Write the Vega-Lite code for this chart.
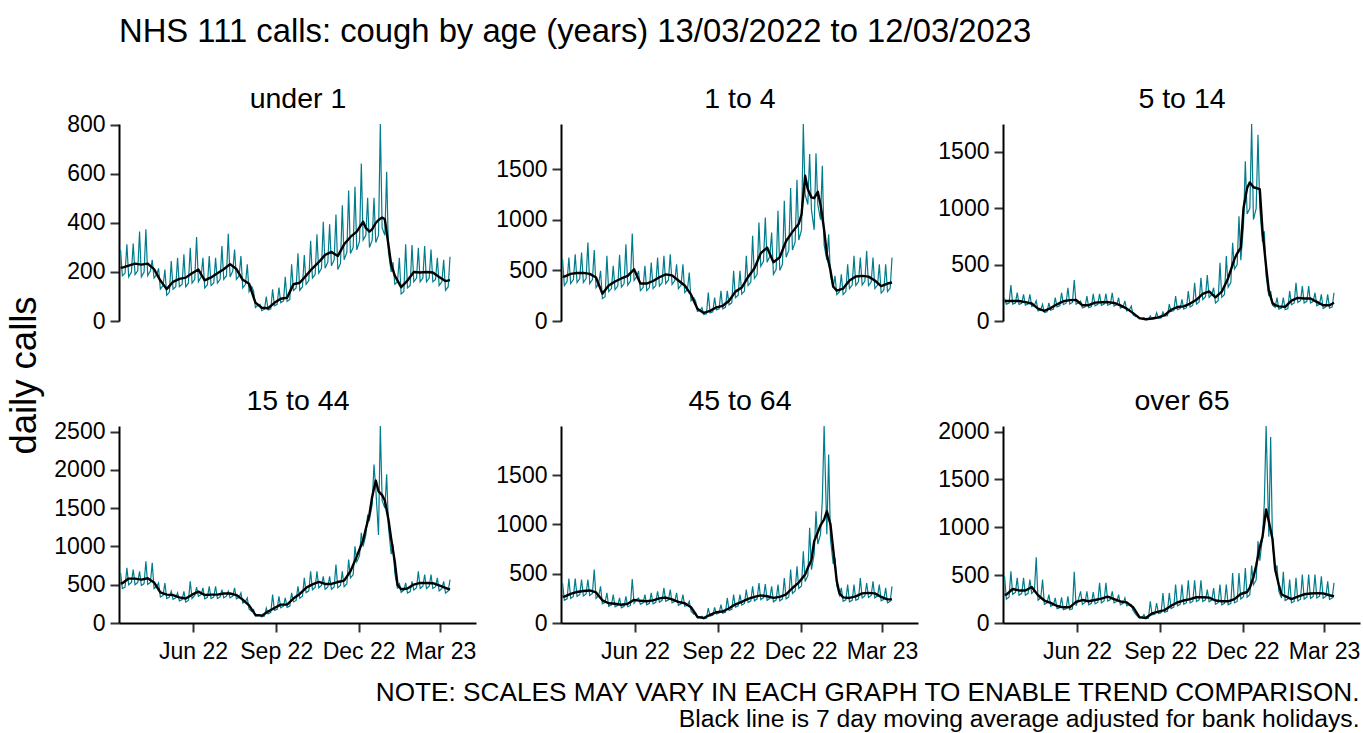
{
"$schema":"https://vega.github.io/schema/vega-lite/v6.json",
"background":"white",
"padding":{"left":5,"top":16,"right":2,"bottom":2},
"title":{"text":"NHS 111 calls: cough by age (years) 13/03/2022 to 12/03/2023","anchor":"start","frame":"group","fontSize":32.8,"fontWeight":"normal","font":"Liberation Sans","color":"#000000","baseline":"alphabetic","offset":9},
"config":{
"font":"Liberation Sans",
"view":{"stroke":null},
"axis":{"grid":false,"domainColor":"#000000","domainWidth":2,"tickColor":"#333333","tickWidth":2,"tickSize":9,"labelFontSize":23,"labelColor":"#000000","labelFont":"Liberation Sans","titleFont":"Liberation Sans","titleFontWeight":"normal","titleColor":"#000000"},
"axisY":{"labelPadding":5},
"axisX":{"labelPadding":8}
},
"datasets":{
"p1":[{"d":"2022-03-13","v":290,"m":218},{"d":"2022-03-15","v":185,"m":218},{"d":"2022-03-18","v":195},{"d":"2022-03-20","v":313},{"d":"2022-03-22","v":180,"m":226},{"d":"2022-03-25","v":200},{"d":"2022-03-27","v":316},{"d":"2022-03-29","v":190,"m":234},{"d":"2022-04-01","v":205},{"d":"2022-04-03","v":365},{"d":"2022-04-05","v":180,"m":230},{"d":"2022-04-08","v":200},{"d":"2022-04-10","v":374},{"d":"2022-04-12","v":185,"m":234},{"d":"2022-04-15","v":205},{"d":"2022-04-17","v":250},{"d":"2022-04-19","v":175,"m":212},{"d":"2022-04-22","v":190},{"d":"2022-04-24","v":215},{"d":"2022-04-26","v":130,"m":165},{"d":"2022-04-29","v":145},{"d":"2022-05-01","v":210},{"d":"2022-05-03","v":105,"m":130},{"d":"2022-05-06","v":118},{"d":"2022-05-08","v":245},{"d":"2022-05-10","v":130,"m":160},{"d":"2022-05-13","v":140},{"d":"2022-05-15","v":258},{"d":"2022-05-17","v":140,"m":172},{"d":"2022-05-20","v":150},{"d":"2022-05-22","v":272},{"d":"2022-05-24","v":140,"m":177},{"d":"2022-05-27","v":155},{"d":"2022-05-29","v":299},{"d":"2022-05-31","v":155,"m":195},{"d":"2022-06-03","v":170},{"d":"2022-06-05","v":343},{"d":"2022-06-07","v":160,"m":210},{"d":"2022-06-10","v":180},{"d":"2022-06-12","v":258},{"d":"2022-06-14","v":135,"m":166},{"d":"2022-06-17","v":148},{"d":"2022-06-19","v":265},{"d":"2022-06-21","v":145,"m":178},{"d":"2022-06-24","v":155},{"d":"2022-06-26","v":258},{"d":"2022-06-28","v":155,"m":195},{"d":"2022-07-01","v":170},{"d":"2022-07-03","v":306},{"d":"2022-07-05","v":170,"m":211},{"d":"2022-07-08","v":185},{"d":"2022-07-10","v":356},{"d":"2022-07-12","v":180,"m":232},{"d":"2022-07-15","v":205},{"d":"2022-07-17","v":292},{"d":"2022-07-19","v":170,"m":212},{"d":"2022-07-22","v":185},{"d":"2022-07-24","v":265},{"d":"2022-07-26","v":135,"m":168},{"d":"2022-07-29","v":150},{"d":"2022-07-31","v":231},{"d":"2022-08-02","v":120,"m":152},{"d":"2022-08-05","v":140},{"d":"2022-08-07","v":122},{"d":"2022-08-09","v":55,"m":75},{"d":"2022-08-12","v":65},{"d":"2022-08-14","v":68},{"d":"2022-08-16","v":42,"m":54},{"d":"2022-08-19","v":48},{"d":"2022-08-21","v":100},{"d":"2022-08-23","v":45,"m":52},{"d":"2022-08-26","v":50},{"d":"2022-08-28","v":129},{"d":"2022-08-30","v":62,"m":74},{"d":"2022-09-02","v":68},{"d":"2022-09-04","v":136},{"d":"2022-09-06","v":75,"m":91},{"d":"2022-09-09","v":82},{"d":"2022-09-11","v":180},{"d":"2022-09-13","v":80,"m":95},{"d":"2022-09-16","v":88},{"d":"2022-09-18","v":231},{"d":"2022-09-20","v":125,"m":150},{"d":"2022-09-23","v":135},{"d":"2022-09-25","v":276},{"d":"2022-09-27","v":125,"m":156},{"d":"2022-09-30","v":140},{"d":"2022-10-02","v":269},{"d":"2022-10-04","v":150,"m":185},{"d":"2022-10-07","v":165},{"d":"2022-10-09","v":327},{"d":"2022-10-11","v":175,"m":215},{"d":"2022-10-14","v":190},{"d":"2022-10-16","v":354},{"d":"2022-10-18","v":195,"m":240},{"d":"2022-10-21","v":215},{"d":"2022-10-23","v":405},{"d":"2022-10-25","v":215,"m":270},{"d":"2022-10-28","v":240},{"d":"2022-10-30","v":395},{"d":"2022-11-01","v":225,"m":282},{"d":"2022-11-04","v":250},{"d":"2022-11-06","v":435},{"d":"2022-11-08","v":210,"m":265},{"d":"2022-11-11","v":235},{"d":"2022-11-13","v":472},{"d":"2022-11-15","v":250,"m":313},{"d":"2022-11-18","v":280},{"d":"2022-11-20","v":533},{"d":"2022-11-22","v":275,"m":343},{"d":"2022-11-25","v":300},{"d":"2022-11-27","v":548},{"d":"2022-11-29","v":290,"m":365},{"d":"2022-12-02","v":325},{"d":"2022-12-04","v":643},{"d":"2022-12-06","v":330,"m":405},{"d":"2022-12-09","v":350,"m":380},{"d":"2022-12-11","v":503},{"d":"2022-12-13","v":300,"m":365},{"d":"2022-12-16","v":330,"m":375},{"d":"2022-12-18","v":503},{"d":"2022-12-20","v":320,"m":400},{"d":"2022-12-23","v":350,"m":412},{"d":"2022-12-25","v":804},{"d":"2022-12-27","v":380,"m":422},{"d":"2022-12-30","v":350,"m":415},{"d":"2023-01-01","v":609},{"d":"2023-01-03","v":280,"m":310},{"d":"2023-01-06","v":200,"m":230},{"d":"2023-01-08","v":240},{"d":"2023-01-10","v":150,"m":185},{"d":"2023-01-13","v":160},{"d":"2023-01-15","v":258},{"d":"2023-01-17","v":110,"m":138},{"d":"2023-01-20","v":120},{"d":"2023-01-22","v":313},{"d":"2023-01-24","v":135,"m":165},{"d":"2023-01-27","v":145},{"d":"2023-01-29","v":310},{"d":"2023-01-31","v":160,"m":200},{"d":"2023-02-03","v":175},{"d":"2023-02-05","v":299},{"d":"2023-02-07","v":160,"m":198},{"d":"2023-02-10","v":175},{"d":"2023-02-12","v":306},{"d":"2023-02-14","v":160,"m":200},{"d":"2023-02-17","v":175},{"d":"2023-02-19","v":292},{"d":"2023-02-21","v":160,"m":198},{"d":"2023-02-24","v":170},{"d":"2023-02-26","v":258},{"d":"2023-02-28","v":145,"m":180},{"d":"2023-03-03","v":160},{"d":"2023-03-05","v":250},{"d":"2023-03-07","v":125,"m":163},{"d":"2023-03-10","v":140},{"d":"2023-03-12","v":262,"m":167}],
"p2":[{"d":"2022-03-13","v":610,"m":438},{"d":"2022-03-15","v":350,"m":438},{"d":"2022-03-18","v":390},{"d":"2022-03-20","v":626},{"d":"2022-03-22","v":370,"m":465},{"d":"2022-03-25","v":410},{"d":"2022-03-27","v":659},{"d":"2022-03-29","v":380,"m":474},{"d":"2022-04-01","v":420},{"d":"2022-04-03","v":676},{"d":"2022-04-05","v":380,"m":475},{"d":"2022-04-08","v":420},{"d":"2022-04-10","v":775},{"d":"2022-04-12","v":370,"m":465},{"d":"2022-04-15","v":410},{"d":"2022-04-17","v":700},{"d":"2022-04-19","v":330,"m":430},{"d":"2022-04-22","v":370},{"d":"2022-04-24","v":495},{"d":"2022-04-26","v":220,"m":270},{"d":"2022-04-29","v":240},{"d":"2022-05-01","v":643},{"d":"2022-05-03","v":290,"m":350},{"d":"2022-05-06","v":320},{"d":"2022-05-08","v":544},{"d":"2022-05-10","v":310,"m":390},{"d":"2022-05-13","v":345},{"d":"2022-05-15","v":653},{"d":"2022-05-17","v":335,"m":420},{"d":"2022-05-20","v":370},{"d":"2022-05-22","v":758},{"d":"2022-05-24","v":355,"m":445},{"d":"2022-05-27","v":395},{"d":"2022-05-29","v":864},{"d":"2022-05-31","v":400,"m":510},{"d":"2022-06-03","v":440},{"d":"2022-06-05","v":495},{"d":"2022-06-07","v":300,"m":370},{"d":"2022-06-10","v":330},{"d":"2022-06-12","v":544},{"d":"2022-06-14","v":300,"m":370},{"d":"2022-06-17","v":330},{"d":"2022-06-19","v":577},{"d":"2022-06-21","v":320,"m":395},{"d":"2022-06-24","v":350},{"d":"2022-06-26","v":626},{"d":"2022-06-28","v":345,"m":432},{"d":"2022-07-01","v":380},{"d":"2022-07-03","v":643},{"d":"2022-07-05","v":370,"m":460},{"d":"2022-07-08","v":405},{"d":"2022-07-10","v":659},{"d":"2022-07-12","v":360,"m":450},{"d":"2022-07-15","v":400},{"d":"2022-07-17","v":560},{"d":"2022-07-19","v":320,"m":400},{"d":"2022-07-22","v":355},{"d":"2022-07-24","v":560},{"d":"2022-07-26","v":280,"m":350},{"d":"2022-07-29","v":310},{"d":"2022-07-31","v":478},{"d":"2022-08-02","v":200,"m":260},{"d":"2022-08-05","v":230},{"d":"2022-08-07","v":198},{"d":"2022-08-09","v":95,"m":120},{"d":"2022-08-12","v":105},{"d":"2022-08-14","v":132},{"d":"2022-08-16","v":65,"m":80},{"d":"2022-08-19","v":72},{"d":"2022-08-21","v":280},{"d":"2022-08-23","v":80,"m":100},{"d":"2022-08-26","v":90},{"d":"2022-08-28","v":231},{"d":"2022-08-30","v":110,"m":135},{"d":"2022-09-02","v":120},{"d":"2022-09-04","v":297},{"d":"2022-09-06","v":120,"m":150},{"d":"2022-09-09","v":135},{"d":"2022-09-11","v":297},{"d":"2022-09-13","v":160,"m":200},{"d":"2022-09-16","v":180},{"d":"2022-09-18","v":495},{"d":"2022-09-20","v":230,"m":290},{"d":"2022-09-23","v":255},{"d":"2022-09-25","v":495},{"d":"2022-09-27","v":265,"m":330},{"d":"2022-09-30","v":295},{"d":"2022-10-02","v":643},{"d":"2022-10-04","v":350,"m":435},{"d":"2022-10-07","v":385},{"d":"2022-10-09","v":841},{"d":"2022-10-11","v":420,"m":520},{"d":"2022-10-14","v":460},{"d":"2022-10-16","v":973},{"d":"2022-10-18","v":540,"m":670},{"d":"2022-10-21","v":590},{"d":"2022-10-23","v":1022},{"d":"2022-10-25","v":580,"m":725},{"d":"2022-10-28","v":640},{"d":"2022-10-30","v":874},{"d":"2022-11-01","v":460,"m":580},{"d":"2022-11-04","v":510},{"d":"2022-11-06","v":1088},{"d":"2022-11-08","v":500,"m":630},{"d":"2022-11-11","v":560},{"d":"2022-11-13","v":1187},{"d":"2022-11-15","v":630,"m":790},{"d":"2022-11-18","v":700},{"d":"2022-11-20","v":1312},{"d":"2022-11-22","v":700,"m":880},{"d":"2022-11-25","v":780},{"d":"2022-11-27","v":1395},{"d":"2022-11-29","v":800,"m":960},{"d":"2022-12-02","v":900,"m":1050},{"d":"2022-12-04","v":1945},{"d":"2022-12-06","v":1250,"m":1434},{"d":"2022-12-09","v":1150,"m":1300},{"d":"2022-12-11","v":1649},{"d":"2022-12-13","v":1100,"m":1220},{"d":"2022-12-16","v":900,"m":1213},{"d":"2022-12-18","v":1655},{"d":"2022-12-20","v":1150,"m":1275},{"d":"2022-12-23","v":1000,"m":1150},{"d":"2022-12-25","v":1533},{"d":"2022-12-27","v":750,"m":900},{"d":"2022-12-30","v":600,"m":659},{"d":"2023-01-01","v":857},{"d":"2023-01-03","v":450,"m":500},{"d":"2023-01-06","v":330,"m":340},{"d":"2023-01-08","v":445},{"d":"2023-01-10","v":260,"m":300},{"d":"2023-01-13","v":290},{"d":"2023-01-15","v":462},{"d":"2023-01-17","v":260,"m":320},{"d":"2023-01-20","v":290},{"d":"2023-01-22","v":560},{"d":"2023-01-24","v":320,"m":400},{"d":"2023-01-27","v":355},{"d":"2023-01-29","v":643},{"d":"2023-01-31","v":350,"m":440},{"d":"2023-02-03","v":390},{"d":"2023-02-05","v":626},{"d":"2023-02-07","v":355,"m":445},{"d":"2023-02-10","v":395},{"d":"2023-02-12","v":692},{"d":"2023-02-14","v":350,"m":438},{"d":"2023-02-17","v":385},{"d":"2023-02-19","v":626},{"d":"2023-02-21","v":320,"m":400},{"d":"2023-02-24","v":355},{"d":"2023-02-26","v":560},{"d":"2023-02-28","v":275,"m":345},{"d":"2023-03-03","v":305},{"d":"2023-03-05","v":560},{"d":"2023-03-07","v":290,"m":370},{"d":"2023-03-10","v":325},{"d":"2023-03-12","v":626,"m":380}],
"p3":[{"d":"2022-03-13","v":200,"m":177},{"d":"2022-03-15","v":150,"m":177},{"d":"2022-03-18","v":160},{"d":"2022-03-20","v":319},{"d":"2022-03-22","v":150,"m":177},{"d":"2022-03-25","v":160},{"d":"2022-03-27","v":251},{"d":"2022-03-29","v":148,"m":177},{"d":"2022-04-01","v":158},{"d":"2022-04-03","v":236},{"d":"2022-04-05","v":140,"m":168},{"d":"2022-04-08","v":150},{"d":"2022-04-10","v":236},{"d":"2022-04-12","v":130,"m":155},{"d":"2022-04-15","v":140},{"d":"2022-04-17","v":180},{"d":"2022-04-19","v":90,"m":110},{"d":"2022-04-22","v":100},{"d":"2022-04-24","v":148},{"d":"2022-04-26","v":75,"m":90},{"d":"2022-04-29","v":82},{"d":"2022-05-01","v":160},{"d":"2022-05-03","v":95,"m":115},{"d":"2022-05-06","v":105},{"d":"2022-05-08","v":207},{"d":"2022-05-10","v":125,"m":148},{"d":"2022-05-13","v":135},{"d":"2022-05-15","v":251},{"d":"2022-05-17","v":145,"m":175},{"d":"2022-05-20","v":158},{"d":"2022-05-22","v":295},{"d":"2022-05-24","v":150,"m":185},{"d":"2022-05-27","v":165},{"d":"2022-05-29","v":363},{"d":"2022-05-31","v":150,"m":186},{"d":"2022-06-03","v":165},{"d":"2022-06-05","v":177},{"d":"2022-06-07","v":115,"m":140},{"d":"2022-06-10","v":125},{"d":"2022-06-12","v":220},{"d":"2022-06-14","v":118,"m":140},{"d":"2022-06-17","v":128},{"d":"2022-06-19","v":242},{"d":"2022-06-21","v":135,"m":163},{"d":"2022-06-24","v":148},{"d":"2022-06-26","v":242},{"d":"2022-06-28","v":138,"m":167},{"d":"2022-07-01","v":150},{"d":"2022-07-03","v":242},{"d":"2022-07-05","v":140,"m":168},{"d":"2022-07-08","v":150},{"d":"2022-07-10","v":251},{"d":"2022-07-12","v":132,"m":160},{"d":"2022-07-15","v":145},{"d":"2022-07-17","v":207},{"d":"2022-07-19","v":115,"m":138},{"d":"2022-07-22","v":125},{"d":"2022-07-24","v":177},{"d":"2022-07-26","v":90,"m":110},{"d":"2022-07-29","v":100},{"d":"2022-07-31","v":133},{"d":"2022-08-02","v":55,"m":70},{"d":"2022-08-05","v":40},{"d":"2022-08-07","v":44},{"d":"2022-08-09","v":20,"m":25},{"d":"2022-08-12","v":22},{"d":"2022-08-14","v":30},{"d":"2022-08-16","v":12,"m":16},{"d":"2022-08-19","v":14},{"d":"2022-08-21","v":44},{"d":"2022-08-23","v":18,"m":22},{"d":"2022-08-26","v":20},{"d":"2022-08-28","v":74},{"d":"2022-08-30","v":25,"m":32},{"d":"2022-09-02","v":28},{"d":"2022-09-04","v":80},{"d":"2022-09-06","v":45,"m":52},{"d":"2022-09-09","v":48},{"d":"2022-09-11","v":150},{"d":"2022-09-13","v":85,"m":100},{"d":"2022-09-16","v":92},{"d":"2022-09-18","v":221},{"d":"2022-09-20","v":100,"m":124},{"d":"2022-09-23","v":110},{"d":"2022-09-25","v":192},{"d":"2022-09-27","v":105,"m":130},{"d":"2022-09-30","v":118},{"d":"2022-10-02","v":266},{"d":"2022-10-04","v":125,"m":155},{"d":"2022-10-07","v":140},{"d":"2022-10-09","v":340},{"d":"2022-10-11","v":150,"m":188},{"d":"2022-10-14","v":170},{"d":"2022-10-16","v":384},{"d":"2022-10-18","v":190,"m":240},{"d":"2022-10-21","v":215},{"d":"2022-10-23","v":407},{"d":"2022-10-25","v":210,"m":262},{"d":"2022-10-28","v":235},{"d":"2022-10-30","v":295},{"d":"2022-11-01","v":160,"m":210},{"d":"2022-11-04","v":180},{"d":"2022-11-06","v":517},{"d":"2022-11-08","v":210,"m":260},{"d":"2022-11-11","v":235},{"d":"2022-11-13","v":576},{"d":"2022-11-15","v":300,"m":380},{"d":"2022-11-18","v":340},{"d":"2022-11-20","v":694},{"d":"2022-11-22","v":460,"m":550},{"d":"2022-11-25","v":500,"m":600},{"d":"2022-11-27","v":930},{"d":"2022-11-29","v":540,"m":650},{"d":"2022-12-02","v":850,"m":1000},{"d":"2022-12-04","v":1417},{"d":"2022-12-06","v":950,"m":1180},{"d":"2022-12-09","v":1000,"m":1230},{"d":"2022-12-11","v":1748},{"d":"2022-12-13","v":900,"m":1187},{"d":"2022-12-16","v":1000,"m":1180},{"d":"2022-12-18","v":1653},{"d":"2022-12-20","v":1000,"m":1170},{"d":"2022-12-23","v":700,"m":800},{"d":"2022-12-25","v":797},{"d":"2022-12-27","v":400,"m":480},{"d":"2022-12-30","v":220,"m":270},{"d":"2023-01-01","v":266},{"d":"2023-01-03","v":140,"m":160},{"d":"2023-01-06","v":120,"m":140},{"d":"2023-01-08","v":207},{"d":"2023-01-10","v":105,"m":130},{"d":"2023-01-13","v":115},{"d":"2023-01-15","v":207},{"d":"2023-01-17","v":100,"m":125},{"d":"2023-01-20","v":110},{"d":"2023-01-22","v":266},{"d":"2023-01-24","v":145,"m":180},{"d":"2023-01-27","v":160},{"d":"2023-01-29","v":340},{"d":"2023-01-31","v":165,"m":205},{"d":"2023-02-03","v":180},{"d":"2023-02-05","v":310},{"d":"2023-02-07","v":160,"m":200},{"d":"2023-02-10","v":175},{"d":"2023-02-12","v":310},{"d":"2023-02-14","v":160,"m":200},{"d":"2023-02-17","v":175},{"d":"2023-02-19","v":251},{"d":"2023-02-21","v":135,"m":170},{"d":"2023-02-24","v":150},{"d":"2023-02-26","v":236},{"d":"2023-02-28","v":110,"m":140},{"d":"2023-03-03","v":125},{"d":"2023-03-05","v":236},{"d":"2023-03-07","v":115,"m":140},{"d":"2023-03-10","v":125},{"d":"2023-03-12","v":251,"m":162}],
"p4":[{"d":"2022-03-13","v":654,"m":520},{"d":"2022-03-15","v":450,"m":520},{"d":"2022-03-18","v":470},{"d":"2022-03-20","v":720},{"d":"2022-03-22","v":500,"m":580},{"d":"2022-03-25","v":530},{"d":"2022-03-27","v":698},{"d":"2022-03-29","v":500,"m":580},{"d":"2022-04-01","v":530},{"d":"2022-04-03","v":676},{"d":"2022-04-05","v":490,"m":567},{"d":"2022-04-08","v":515},{"d":"2022-04-10","v":807},{"d":"2022-04-12","v":505,"m":585},{"d":"2022-04-15","v":530},{"d":"2022-04-17","v":785},{"d":"2022-04-19","v":450,"m":530},{"d":"2022-04-22","v":480},{"d":"2022-04-24","v":523},{"d":"2022-04-26","v":340,"m":400},{"d":"2022-04-29","v":360},{"d":"2022-05-01","v":523},{"d":"2022-05-03","v":320,"m":371},{"d":"2022-05-06","v":340},{"d":"2022-05-08","v":414},{"d":"2022-05-10","v":310,"m":365},{"d":"2022-05-13","v":330},{"d":"2022-05-15","v":393},{"d":"2022-05-17","v":290,"m":335},{"d":"2022-05-20","v":305},{"d":"2022-05-22","v":414},{"d":"2022-05-24","v":275,"m":320},{"d":"2022-05-27","v":295},{"d":"2022-05-29","v":545},{"d":"2022-05-31","v":320,"m":370},{"d":"2022-06-03","v":360},{"d":"2022-06-05","v":470},{"d":"2022-06-07","v":350,"m":410},{"d":"2022-06-10","v":370},{"d":"2022-06-12","v":458},{"d":"2022-06-14","v":315,"m":365},{"d":"2022-06-17","v":335},{"d":"2022-06-19","v":480},{"d":"2022-06-21","v":320,"m":371},{"d":"2022-06-24","v":340},{"d":"2022-06-26","v":480},{"d":"2022-06-28","v":320,"m":371},{"d":"2022-07-01","v":340},{"d":"2022-07-03","v":436},{"d":"2022-07-05","v":330,"m":385},{"d":"2022-07-08","v":350},{"d":"2022-07-10","v":414},{"d":"2022-07-12","v":330,"m":385},{"d":"2022-07-15","v":350},{"d":"2022-07-17","v":458},{"d":"2022-07-19","v":315,"m":365},{"d":"2022-07-22","v":335},{"d":"2022-07-24","v":393},{"d":"2022-07-26","v":260,"m":305},{"d":"2022-07-29","v":280},{"d":"2022-07-31","v":327},{"d":"2022-08-02","v":180,"m":230},{"d":"2022-08-05","v":150},{"d":"2022-08-07","v":174},{"d":"2022-08-09","v":90,"m":105},{"d":"2022-08-12","v":95},{"d":"2022-08-14","v":109},{"d":"2022-08-16","v":80,"m":96},{"d":"2022-08-19","v":90},{"d":"2022-08-21","v":196},{"d":"2022-08-23","v":120,"m":150},{"d":"2022-08-26","v":140},{"d":"2022-08-28","v":371},{"d":"2022-08-30","v":165,"m":196},{"d":"2022-09-02","v":180},{"d":"2022-09-04","v":349},{"d":"2022-09-06","v":200,"m":240},{"d":"2022-09-09","v":220},{"d":"2022-09-11","v":327},{"d":"2022-09-13","v":205,"m":240},{"d":"2022-09-16","v":220},{"d":"2022-09-18","v":393},{"d":"2022-09-20","v":275,"m":320},{"d":"2022-09-23","v":295},{"d":"2022-09-25","v":480},{"d":"2022-09-27","v":325,"m":380},{"d":"2022-09-30","v":350},{"d":"2022-10-02","v":589},{"d":"2022-10-04","v":395,"m":460},{"d":"2022-10-07","v":420},{"d":"2022-10-09","v":676},{"d":"2022-10-11","v":435,"m":505},{"d":"2022-10-14","v":465},{"d":"2022-10-16","v":676},{"d":"2022-10-18","v":460,"m":536},{"d":"2022-10-21","v":490},{"d":"2022-10-23","v":610},{"d":"2022-10-25","v":440,"m":510},{"d":"2022-10-28","v":470},{"d":"2022-10-30","v":610},{"d":"2022-11-01","v":440,"m":510},{"d":"2022-11-04","v":470},{"d":"2022-11-06","v":763},{"d":"2022-11-08","v":460,"m":535},{"d":"2022-11-11","v":490},{"d":"2022-11-13","v":676},{"d":"2022-11-15","v":475,"m":554},{"d":"2022-11-18","v":510},{"d":"2022-11-20","v":829},{"d":"2022-11-22","v":590,"m":676},{"d":"2022-11-25","v":630},{"d":"2022-11-27","v":1003},{"d":"2022-11-29","v":800,"m":870},{"d":"2022-12-02","v":880,"m":960},{"d":"2022-12-04","v":1178},{"d":"2022-12-06","v":1000,"m":1080},{"d":"2022-12-09","v":1150,"m":1230},{"d":"2022-12-11","v":1417},{"d":"2022-12-13","v":1350,"m":1420},{"d":"2022-12-16","v":1550,"m":1650},{"d":"2022-12-18","v":2071},{"d":"2022-12-20","v":1750,"m":1860},{"d":"2022-12-23","v":1150,"m":1720},{"d":"2022-12-25","v":2573},{"d":"2022-12-27","v":1600,"m":1670},{"d":"2022-12-30","v":1500,"m":1600},{"d":"2023-01-01","v":1941},{"d":"2023-01-03","v":1250,"m":1350},{"d":"2023-01-06","v":900,"m":1100},{"d":"2023-01-08","v":1025},{"d":"2023-01-10","v":650,"m":800},{"d":"2023-01-13","v":450,"m":500},{"d":"2023-01-15","v":523},{"d":"2023-01-17","v":400,"m":440},{"d":"2023-01-20","v":430},{"d":"2023-01-22","v":523},{"d":"2023-01-24","v":390,"m":450},{"d":"2023-01-27","v":410},{"d":"2023-01-29","v":545},{"d":"2023-01-31","v":430,"m":502},{"d":"2023-02-03","v":460},{"d":"2023-02-05","v":676},{"d":"2023-02-07","v":450,"m":523},{"d":"2023-02-10","v":480},{"d":"2023-02-12","v":632},{"d":"2023-02-14","v":450,"m":523},{"d":"2023-02-17","v":480},{"d":"2023-02-19","v":632},{"d":"2023-02-21","v":450,"m":520},{"d":"2023-02-24","v":475},{"d":"2023-02-26","v":589},{"d":"2023-02-28","v":420,"m":490},{"d":"2023-03-03","v":450},{"d":"2023-03-05","v":545},{"d":"2023-03-07","v":390,"m":460},{"d":"2023-03-10","v":420},{"d":"2023-03-12","v":567,"m":436}],
"p5":[{"d":"2022-03-13","v":406,"m":268},{"d":"2022-03-15","v":230,"m":268},{"d":"2022-03-18","v":245},{"d":"2022-03-20","v":450},{"d":"2022-03-22","v":250,"m":295},{"d":"2022-03-25","v":270},{"d":"2022-03-27","v":450},{"d":"2022-03-29","v":270,"m":315},{"d":"2022-04-01","v":290},{"d":"2022-04-03","v":440},{"d":"2022-04-05","v":275,"m":325},{"d":"2022-04-08","v":295},{"d":"2022-04-10","v":440},{"d":"2022-04-12","v":280,"m":330},{"d":"2022-04-15","v":300},{"d":"2022-04-17","v":542},{"d":"2022-04-19","v":250,"m":310},{"d":"2022-04-22","v":280},{"d":"2022-04-24","v":372},{"d":"2022-04-26","v":195,"m":230},{"d":"2022-04-29","v":210},{"d":"2022-05-01","v":305},{"d":"2022-05-03","v":170,"m":200},{"d":"2022-05-06","v":185},{"d":"2022-05-08","v":288},{"d":"2022-05-10","v":165,"m":195},{"d":"2022-05-13","v":180},{"d":"2022-05-15","v":254},{"d":"2022-05-17","v":155,"m":185},{"d":"2022-05-20","v":170},{"d":"2022-05-22","v":271},{"d":"2022-05-24","v":165,"m":195},{"d":"2022-05-27","v":178},{"d":"2022-05-29","v":447},{"d":"2022-05-31","v":200,"m":235},{"d":"2022-06-03","v":240},{"d":"2022-06-05","v":254},{"d":"2022-06-07","v":190,"m":225},{"d":"2022-06-10","v":205},{"d":"2022-06-12","v":288},{"d":"2022-06-14","v":185,"m":220},{"d":"2022-06-17","v":200},{"d":"2022-06-19","v":305},{"d":"2022-06-21","v":195,"m":230},{"d":"2022-06-24","v":210},{"d":"2022-06-26","v":322},{"d":"2022-06-28","v":210,"m":250},{"d":"2022-07-01","v":230},{"d":"2022-07-03","v":356},{"d":"2022-07-05","v":220,"m":258},{"d":"2022-07-08","v":235},{"d":"2022-07-10","v":339},{"d":"2022-07-12","v":205,"m":240},{"d":"2022-07-15","v":220},{"d":"2022-07-17","v":305},{"d":"2022-07-19","v":180,"m":215},{"d":"2022-07-22","v":195},{"d":"2022-07-24","v":288},{"d":"2022-07-26","v":170,"m":200},{"d":"2022-07-29","v":180},{"d":"2022-07-31","v":220},{"d":"2022-08-02","v":120,"m":160},{"d":"2022-08-05","v":90},{"d":"2022-08-07","v":102},{"d":"2022-08-09","v":50,"m":62},{"d":"2022-08-12","v":55},{"d":"2022-08-14","v":68},{"d":"2022-08-16","v":42,"m":51},{"d":"2022-08-19","v":48},{"d":"2022-08-21","v":152},{"d":"2022-08-23","v":70,"m":83},{"d":"2022-08-26","v":78},{"d":"2022-08-28","v":159},{"d":"2022-08-30","v":92,"m":110},{"d":"2022-09-02","v":100},{"d":"2022-09-04","v":186},{"d":"2022-09-06","v":100,"m":117},{"d":"2022-09-09","v":108},{"d":"2022-09-11","v":254},{"d":"2022-09-13","v":128,"m":150},{"d":"2022-09-16","v":138},{"d":"2022-09-18","v":288},{"d":"2022-09-20","v":162,"m":190},{"d":"2022-09-23","v":175},{"d":"2022-09-25","v":288},{"d":"2022-09-27","v":183,"m":215},{"d":"2022-09-30","v":198},{"d":"2022-10-02","v":339},{"d":"2022-10-04","v":208,"m":245},{"d":"2022-10-07","v":225},{"d":"2022-10-09","v":372},{"d":"2022-10-11","v":225,"m":265},{"d":"2022-10-14","v":245},{"d":"2022-10-16","v":406},{"d":"2022-10-18","v":238,"m":280},{"d":"2022-10-21","v":258},{"d":"2022-10-23","v":396},{"d":"2022-10-25","v":230,"m":271},{"d":"2022-10-28","v":250},{"d":"2022-10-30","v":372},{"d":"2022-11-01","v":215,"m":255},{"d":"2022-11-04","v":235},{"d":"2022-11-06","v":389},{"d":"2022-11-08","v":225,"m":265},{"d":"2022-11-11","v":245},{"d":"2022-11-13","v":457},{"d":"2022-11-15","v":245,"m":290},{"d":"2022-11-18","v":265},{"d":"2022-11-20","v":542},{"d":"2022-11-22","v":300,"m":355},{"d":"2022-11-25","v":325},{"d":"2022-11-27","v":576},{"d":"2022-11-29","v":350,"m":410},{"d":"2022-12-02","v":375},{"d":"2022-12-04","v":728},{"d":"2022-12-06","v":420,"m":491},{"d":"2022-12-09","v":480,"m":560},{"d":"2022-12-11","v":965},{"d":"2022-12-13","v":540,"m":640},{"d":"2022-12-16","v":700,"m":830},{"d":"2022-12-18","v":1134},{"d":"2022-12-20","v":800,"m":920},{"d":"2022-12-23","v":900,"m":990},{"d":"2022-12-25","v":1250},{"d":"2022-12-27","v":1998,"m":1050},{"d":"2022-12-30","v":900,"m":1134},{"d":"2023-01-01","v":1710},{"d":"2023-01-03","v":850,"m":1000},{"d":"2023-01-06","v":600,"m":750},{"d":"2023-01-08","v":660},{"d":"2023-01-10","v":380,"m":423},{"d":"2023-01-13","v":280,"m":300},{"d":"2023-01-15","v":356},{"d":"2023-01-17","v":220,"m":260},{"d":"2023-01-20","v":235},{"d":"2023-01-22","v":389},{"d":"2023-01-24","v":215,"m":254},{"d":"2023-01-27","v":230},{"d":"2023-01-29","v":389},{"d":"2023-01-31","v":230,"m":270},{"d":"2023-02-03","v":245},{"d":"2023-02-05","v":457},{"d":"2023-02-07","v":255,"m":300},{"d":"2023-02-10","v":275},{"d":"2023-02-12","v":406},{"d":"2023-02-14","v":260,"m":305},{"d":"2023-02-17","v":280},{"d":"2023-02-19","v":423},{"d":"2023-02-21","v":255,"m":300},{"d":"2023-02-24","v":275},{"d":"2023-02-26","v":389},{"d":"2023-02-28","v":225,"m":265},{"d":"2023-03-03","v":240},{"d":"2023-03-05","v":356},{"d":"2023-03-07","v":205,"m":240},{"d":"2023-03-10","v":220},{"d":"2023-03-12","v":372,"m":240}],
"p6":[{"d":"2022-03-13","v":488,"m":296},{"d":"2022-03-15","v":250,"m":296},{"d":"2022-03-18","v":270},{"d":"2022-03-20","v":541},{"d":"2022-03-22","v":300,"m":355},{"d":"2022-03-25","v":320},{"d":"2022-03-27","v":471},{"d":"2022-03-29","v":290,"m":340},{"d":"2022-04-01","v":310},{"d":"2022-04-03","v":471},{"d":"2022-04-05","v":290,"m":340},{"d":"2022-04-08","v":310},{"d":"2022-04-10","v":453},{"d":"2022-04-12","v":310,"m":375},{"d":"2022-04-15","v":340},{"d":"2022-04-17","v":687},{"d":"2022-04-19","v":240,"m":290},{"d":"2022-04-22","v":260},{"d":"2022-04-24","v":453},{"d":"2022-04-26","v":195,"m":235},{"d":"2022-04-29","v":210},{"d":"2022-05-01","v":296},{"d":"2022-05-03","v":175,"m":210},{"d":"2022-05-06","v":190},{"d":"2022-05-08","v":262},{"d":"2022-05-10","v":150,"m":178},{"d":"2022-05-13","v":160},{"d":"2022-05-15","v":269},{"d":"2022-05-17","v":138,"m":164},{"d":"2022-05-20","v":148},{"d":"2022-05-22","v":279},{"d":"2022-05-24","v":138,"m":164},{"d":"2022-05-27","v":148},{"d":"2022-05-29","v":534},{"d":"2022-05-31","v":180,"m":220},{"d":"2022-06-03","v":260},{"d":"2022-06-05","v":331},{"d":"2022-06-07","v":195,"m":240},{"d":"2022-06-10","v":215},{"d":"2022-06-12","v":331},{"d":"2022-06-14","v":190,"m":227},{"d":"2022-06-17","v":205},{"d":"2022-06-19","v":324},{"d":"2022-06-21","v":200,"m":240},{"d":"2022-06-24","v":215},{"d":"2022-06-26","v":419},{"d":"2022-06-28","v":210,"m":255},{"d":"2022-07-01","v":230},{"d":"2022-07-03","v":419},{"d":"2022-07-05","v":230,"m":275},{"d":"2022-07-08","v":245},{"d":"2022-07-10","v":331},{"d":"2022-07-12","v":210,"m":250},{"d":"2022-07-15","v":225},{"d":"2022-07-17","v":296},{"d":"2022-07-19","v":190,"m":225},{"d":"2022-07-22","v":205},{"d":"2022-07-24","v":262},{"d":"2022-07-26","v":180,"m":215},{"d":"2022-07-29","v":195},{"d":"2022-07-31","v":192},{"d":"2022-08-02","v":130,"m":165},{"d":"2022-08-05","v":90},{"d":"2022-08-07","v":70},{"d":"2022-08-09","v":50,"m":62},{"d":"2022-08-12","v":55},{"d":"2022-08-14","v":87},{"d":"2022-08-16","v":45,"m":52},{"d":"2022-08-19","v":50},{"d":"2022-08-21","v":227},{"d":"2022-08-23","v":85,"m":100},{"d":"2022-08-26","v":92},{"d":"2022-08-28","v":209},{"d":"2022-08-30","v":100,"m":118},{"d":"2022-09-02","v":108},{"d":"2022-09-04","v":314},{"d":"2022-09-06","v":112,"m":135},{"d":"2022-09-09","v":122},{"d":"2022-09-11","v":314},{"d":"2022-09-13","v":150,"m":180},{"d":"2022-09-16","v":165},{"d":"2022-09-18","v":401},{"d":"2022-09-20","v":180,"m":215},{"d":"2022-09-23","v":195},{"d":"2022-09-25","v":401},{"d":"2022-09-27","v":195,"m":235},{"d":"2022-09-30","v":212},{"d":"2022-10-02","v":446},{"d":"2022-10-04","v":210,"m":250},{"d":"2022-10-07","v":225},{"d":"2022-10-09","v":446},{"d":"2022-10-11","v":225,"m":269},{"d":"2022-10-14","v":242},{"d":"2022-10-16","v":446},{"d":"2022-10-18","v":225,"m":269},{"d":"2022-10-21","v":242},{"d":"2022-10-23","v":349},{"d":"2022-10-25","v":222,"m":265},{"d":"2022-10-28","v":240},{"d":"2022-10-30","v":366},{"d":"2022-11-01","v":195,"m":235},{"d":"2022-11-04","v":212},{"d":"2022-11-06","v":401},{"d":"2022-11-08","v":190,"m":227},{"d":"2022-11-11","v":205},{"d":"2022-11-13","v":401},{"d":"2022-11-15","v":190,"m":227},{"d":"2022-11-18","v":205},{"d":"2022-11-20","v":523},{"d":"2022-11-22","v":210,"m":250},{"d":"2022-11-25","v":225},{"d":"2022-11-27","v":523},{"d":"2022-11-29","v":250,"m":303},{"d":"2022-12-02","v":275},{"d":"2022-12-04","v":575},{"d":"2022-12-06","v":270,"m":324},{"d":"2022-12-09","v":295,"m":370},{"d":"2022-12-11","v":600},{"d":"2022-12-13","v":400,"m":480},{"d":"2022-12-16","v":450,"m":600},{"d":"2022-12-18","v":855},{"d":"2022-12-20","v":650,"m":790},{"d":"2022-12-23","v":900,"m":900},{"d":"2022-12-25","v":1256},{"d":"2022-12-27","v":2058,"m":1186},{"d":"2022-12-30","v":900,"m":1060},{"d":"2023-01-01","v":1943},{"d":"2023-01-03","v":850,"m":880},{"d":"2023-01-06","v":550,"m":560},{"d":"2023-01-08","v":600},{"d":"2023-01-10","v":330,"m":400},{"d":"2023-01-13","v":260,"m":300},{"d":"2023-01-15","v":534},{"d":"2023-01-17","v":235,"m":280},{"d":"2023-01-20","v":250},{"d":"2023-01-22","v":453},{"d":"2023-01-24","v":210,"m":250},{"d":"2023-01-27","v":225},{"d":"2023-01-29","v":471},{"d":"2023-01-31","v":230,"m":275},{"d":"2023-02-03","v":248},{"d":"2023-02-05","v":506},{"d":"2023-02-07","v":250,"m":300},{"d":"2023-02-10","v":270},{"d":"2023-02-12","v":506},{"d":"2023-02-14","v":258,"m":308},{"d":"2023-02-17","v":278},{"d":"2023-02-19","v":506},{"d":"2023-02-21","v":262,"m":312},{"d":"2023-02-24","v":280},{"d":"2023-02-26","v":488},{"d":"2023-02-28","v":260,"m":310},{"d":"2023-03-03","v":278},{"d":"2023-03-05","v":436},{"d":"2023-03-07","v":245,"m":290},{"d":"2023-03-10","v":262},{"d":"2023-03-12","v":419,"m":279}]
},
"columns":3,
"spacing":{"row":105,"column":85},
"bounds":"flush",
"concat":[
{"width":357,"height":197,"data":{"name":"p1"},"resolve":{"axis":{"x":"independent"}},"layer":[
{"mark":{"type":"line","color":"#007C8C","strokeWidth":1.2},"encoding":{"x":{"field":"d","type":"temporal","scale":{"domain":[{"year":2022,"month":3,"date":11,"hours":7},{"year":2023,"month":4,"date":9,"hours":17}]},"axis":null},"y":{"field":"v","type":"quantitative","scale":{"domain":[0,804],"nice":false},"axis":{"title":null,"format":"d","tickCount":5}}}},
{"transform":[{"filter":"isValid(datum.m)"}],"mark":{"type":"line","color":"#000000","strokeWidth":2.4,"strokeJoin":"round"},"encoding":{"x":{"field":"d","type":"temporal","scale":{"domain":[{"year":2022,"month":3,"date":11,"hours":7},{"year":2023,"month":4,"date":9,"hours":17}]},"axis":{"orient":"top","title":"under 1","domain":false,"ticks":false,"labels":false,"titleFontSize":28.5,"titleY":-17,"titleBaseline":"alphabetic"}},"y":{"field":"m","type":"quantitative","scale":{"domain":[0,804],"nice":false},"axis":{"title":null,"format":"d","tickCount":5}}}}]},
{"width":357,"height":197,"data":{"name":"p2"},"resolve":{"axis":{"x":"independent"}},"layer":[
{"mark":{"type":"line","color":"#007C8C","strokeWidth":1.2},"encoding":{"x":{"field":"d","type":"temporal","scale":{"domain":[{"year":2022,"month":3,"date":11,"hours":7},{"year":2023,"month":4,"date":9,"hours":17}]},"axis":null},"y":{"field":"v","type":"quantitative","scale":{"domain":[0,1945],"nice":false},"axis":{"title":null,"format":"d","tickCount":5}}}},
{"transform":[{"filter":"isValid(datum.m)"}],"mark":{"type":"line","color":"#000000","strokeWidth":2.4,"strokeJoin":"round"},"encoding":{"x":{"field":"d","type":"temporal","scale":{"domain":[{"year":2022,"month":3,"date":11,"hours":7},{"year":2023,"month":4,"date":9,"hours":17}]},"axis":{"orient":"top","title":"1 to 4","domain":false,"ticks":false,"labels":false,"titleFontSize":28.5,"titleY":-17,"titleBaseline":"alphabetic"}},"y":{"field":"m","type":"quantitative","scale":{"domain":[0,1945],"nice":false},"axis":{"title":null,"format":"d","tickCount":5}}}}]},
{"width":357,"height":197,"data":{"name":"p3"},"resolve":{"axis":{"x":"independent"}},"layer":[
{"mark":{"type":"line","color":"#007C8C","strokeWidth":1.2},"encoding":{"x":{"field":"d","type":"temporal","scale":{"domain":[{"year":2022,"month":3,"date":11,"hours":7},{"year":2023,"month":4,"date":9,"hours":17}]},"axis":null},"y":{"field":"v","type":"quantitative","scale":{"domain":[0,1748],"nice":false},"axis":{"title":null,"format":"d","tickCount":5}}}},
{"transform":[{"filter":"isValid(datum.m)"}],"mark":{"type":"line","color":"#000000","strokeWidth":2.4,"strokeJoin":"round"},"encoding":{"x":{"field":"d","type":"temporal","scale":{"domain":[{"year":2022,"month":3,"date":11,"hours":7},{"year":2023,"month":4,"date":9,"hours":17}]},"axis":{"orient":"top","title":"5 to 14","domain":false,"ticks":false,"labels":false,"titleFontSize":28.5,"titleY":-17,"titleBaseline":"alphabetic"}},"y":{"field":"m","type":"quantitative","scale":{"domain":[0,1748],"nice":false},"axis":{"title":null,"format":"d","tickCount":5}}}}]},
{"width":357,"height":197,"data":{"name":"p4"},"resolve":{"axis":{"x":"independent"}},"layer":[
{"mark":{"type":"line","color":"#007C8C","strokeWidth":1.2},"encoding":{"x":{"field":"d","type":"temporal","scale":{"domain":[{"year":2022,"month":3,"date":11,"hours":7},{"year":2023,"month":4,"date":9,"hours":17}]},"axis":{"title":null,"format":"%b %y","values":[{"year":2022,"month":6,"date":1},{"year":2022,"month":9,"date":1},{"year":2022,"month":12,"date":1},{"year":2023,"month":3,"date":1}]}},"y":{"field":"v","type":"quantitative","scale":{"domain":[0,2573],"nice":false},"axis":{"title":"daily calls","format":"d","tickCount":5,"titleX":-84,"titleY":-51,"titleAngle":-90,"titleAlign":"center","titleBaseline":"alphabetic","titleFontSize":36.5}}}},
{"transform":[{"filter":"isValid(datum.m)"}],"mark":{"type":"line","color":"#000000","strokeWidth":2.4,"strokeJoin":"round"},"encoding":{"x":{"field":"d","type":"temporal","scale":{"domain":[{"year":2022,"month":3,"date":11,"hours":7},{"year":2023,"month":4,"date":9,"hours":17}]},"axis":{"orient":"top","title":"15 to 44","domain":false,"ticks":false,"labels":false,"titleFontSize":28.5,"titleY":-17,"titleBaseline":"alphabetic"}},"y":{"field":"m","type":"quantitative","scale":{"domain":[0,2573],"nice":false},"axis":{"title":"daily calls","format":"d","tickCount":5,"titleX":-84,"titleY":-51,"titleAngle":-90,"titleAlign":"center","titleBaseline":"alphabetic","titleFontSize":36.5}}}}]},
{"width":357,"height":197,"data":{"name":"p5"},"resolve":{"axis":{"x":"independent"}},"layer":[
{"mark":{"type":"line","color":"#007C8C","strokeWidth":1.2},"encoding":{"x":{"field":"d","type":"temporal","scale":{"domain":[{"year":2022,"month":3,"date":11,"hours":7},{"year":2023,"month":4,"date":9,"hours":17}]},"axis":{"title":"Black line is 7 day moving average adjusted for bank holidays.","titleX":798,"titleY":103,"titleAlign":"right","titleBaseline":"alphabetic","titleFontSize":24.7,"format":"%b %y","values":[{"year":2022,"month":6,"date":1},{"year":2022,"month":9,"date":1},{"year":2022,"month":12,"date":1},{"year":2023,"month":3,"date":1}]}},"y":{"field":"v","type":"quantitative","scale":{"domain":[0,1998],"nice":false},"axis":{"title":null,"format":"d","tickCount":5}}}},
{"transform":[{"filter":"isValid(datum.m)"}],"mark":{"type":"line","color":"#000000","strokeWidth":2.4,"strokeJoin":"round"},"encoding":{"x":{"field":"d","type":"temporal","scale":{"domain":[{"year":2022,"month":3,"date":11,"hours":7},{"year":2023,"month":4,"date":9,"hours":17}]},"axis":{"orient":"top","title":"45 to 64","domain":false,"ticks":false,"labels":false,"titleFontSize":28.5,"titleY":-17,"titleBaseline":"alphabetic"}},"y":{"field":"m","type":"quantitative","scale":{"domain":[0,1998],"nice":false},"axis":{"title":null,"format":"d","tickCount":5}}}}]},
{"width":357,"height":197,"data":{"name":"p6"},"resolve":{"axis":{"x":"independent"}},"layer":[
{"mark":{"type":"line","color":"#007C8C","strokeWidth":1.2},"encoding":{"x":{"field":"d","type":"temporal","scale":{"domain":[{"year":2022,"month":3,"date":11,"hours":7},{"year":2023,"month":4,"date":9,"hours":17}]},"axis":{"title":"NOTE: SCALES MAY VARY IN EACH GRAPH TO ENABLE TREND COMPARISON.","titleX":356,"titleY":77,"titleAlign":"right","titleBaseline":"alphabetic","titleFontSize":26.2,"format":"%b %y","values":[{"year":2022,"month":6,"date":1},{"year":2022,"month":9,"date":1},{"year":2022,"month":12,"date":1},{"year":2023,"month":3,"date":1}]}},"y":{"field":"v","type":"quantitative","scale":{"domain":[0,2058],"nice":false},"axis":{"title":null,"format":"d","tickCount":5}}}},
{"transform":[{"filter":"isValid(datum.m)"}],"mark":{"type":"line","color":"#000000","strokeWidth":2.4,"strokeJoin":"round"},"encoding":{"x":{"field":"d","type":"temporal","scale":{"domain":[{"year":2022,"month":3,"date":11,"hours":7},{"year":2023,"month":4,"date":9,"hours":17}]},"axis":{"orient":"top","title":"over 65","domain":false,"ticks":false,"labels":false,"titleFontSize":28.5,"titleY":-17,"titleBaseline":"alphabetic"}},"y":{"field":"m","type":"quantitative","scale":{"domain":[0,2058],"nice":false},"axis":{"title":null,"format":"d","tickCount":5}}}}]}
]
}
